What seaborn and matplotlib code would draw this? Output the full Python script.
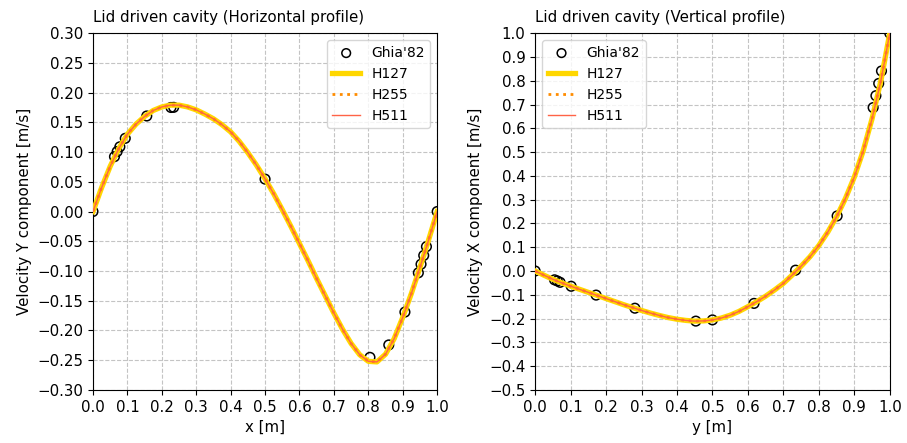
import numpy as np
import pandas as pd
import matplotlib
matplotlib.use("Agg")
import matplotlib.pyplot as plt
import seaborn as sns

plt.rcParams["font.size"] = 10.8

# Ghia et al. (1982), Re=100
ghia_x = [1.0000, 0.9688, 0.9609, 0.9531, 0.9453, 0.9063, 0.8594, 0.8047, 0.5000,
          0.2344, 0.2266, 0.1563, 0.0938, 0.0781, 0.0703, 0.0625, 0.0000]
ghia_v = [0.0, -0.05906, -0.07391, -0.08864, -0.10313, -0.16914, -0.22445, -0.24533,
          0.05454, 0.17527, 0.17507, 0.16077, 0.12317, 0.10890, 0.10091, 0.09233, 0.0]
ghia_y = [1.0000, 0.9766, 0.9688, 0.9609, 0.9531, 0.8516, 0.7344, 0.6172, 0.5000,
          0.4531, 0.2813, 0.1719, 0.1016, 0.0703, 0.0625, 0.0547, 0.0000]
ghia_u = [1.0, 0.84123, 0.78871, 0.73722, 0.68717, 0.23151, 0.00332, -0.13641, -0.20581,
          -0.21090, -0.15662, -0.10150, -0.06434, -0.04775, -0.04192, -0.03717, 0.0]

# simulation profiles
sim_x = [0.000, 0.025, 0.050, 0.075, 0.100, 0.125, 0.150, 0.175, 0.200, 0.225,
         0.250, 0.275, 0.300, 0.325, 0.350, 0.375, 0.400, 0.425, 0.450, 0.475,
         0.500, 0.525, 0.550, 0.575, 0.600, 0.625, 0.650, 0.675, 0.700, 0.725,
         0.750, 0.775, 0.800, 0.825, 0.850, 0.875, 0.900, 0.925, 0.950, 0.975, 1.000]
sim_v = [0.000, 0.040, 0.076, 0.106, 0.130, 0.147, 0.160, 0.170, 0.176, 0.179,
         0.179, 0.176, 0.171, 0.164, 0.156, 0.146, 0.134, 0.118, 0.099, 0.078,
         0.055, 0.030, 0.003, -0.025, -0.054, -0.083, -0.113, -0.142, -0.171, -0.198,
         -0.222, -0.241, -0.252, -0.253, -0.240, -0.214, -0.178, -0.138, -0.094, -0.048, 0.000]
sim_y = [0.000, 0.025, 0.050, 0.075, 0.100, 0.125, 0.150, 0.175, 0.200, 0.225,
         0.250, 0.275, 0.300, 0.325, 0.350, 0.375, 0.400, 0.425, 0.450, 0.475,
         0.500, 0.525, 0.550, 0.575, 0.600, 0.625, 0.650, 0.675, 0.700, 0.725,
         0.750, 0.775, 0.800, 0.825, 0.850, 0.875, 0.900, 0.925, 0.950, 0.975, 1.000]
sim_u = [0.000, -0.018, -0.035, -0.050, -0.064, -0.077, -0.090, -0.103, -0.116, -0.129,
         -0.142, -0.154, -0.166, -0.177, -0.187, -0.196, -0.203, -0.208, -0.211, -0.210,
         -0.206, -0.198, -0.186, -0.170, -0.150, -0.129, -0.106, -0.080, -0.052, -0.017,
         0.020, 0.060, 0.107, 0.163, 0.228, 0.305, 0.395, 0.505, 0.640, 0.800, 1.000]

curves = [("H127", dict(color="gold", lw=3.8, ls="-")),
          ("H255", dict(color="darkorange", lw=2.0, ls=":")),
          ("H511", dict(color="tomato", lw=1.0, ls="-"))]

fig = plt.figure(figsize=(9.07, 4.43), dpi=100)
ax1 = fig.add_axes([0.1025, 0.12, 0.3795, 0.805])
ax2 = fig.add_axes([0.590, 0.12, 0.391, 0.805])


def fmt(t, nd):
    s = "%.*f" % (nd, round(t, nd) + 0.0)
    return s.replace("-", "\u2212")


def panel(ax, gx, gy, sx, sy):
    sns.scatterplot(x=gx, y=gy, ax=ax, s=48, facecolor="none", edgecolor="black",
                    linewidth=1.1, label="Ghia'82", zorder=2)
    for name, st in curves:
        sns.lineplot(x=sx, y=sy, ax=ax, color=st["color"], linewidth=st["lw"],
                     linestyle=st["ls"], label=name, sort=False, zorder=3)
    ax.grid(True, linestyle="--", color="#c4c4c4", linewidth=0.8)
    ax.set_axisbelow(True)
    ax.set_xlim(0, 1)
    ax.set_xticks(np.arange(0, 1.01, 0.1))
    ax.set_xticklabels([fmt(t, 1) for t in np.arange(0, 1.01, 0.1)])


panel(ax1, ghia_x, ghia_v, sim_x, sim_v)
ax1.set_ylim(-0.3, 0.3)
yt = np.arange(-0.30, 0.301, 0.05)
ax1.set_yticks(yt)
ax1.set_yticklabels([fmt(t, 2) for t in yt])
ax1.set_xlabel("x [m]")
ax1.set_ylabel("Velocity Y component [m/s]")
ax1.set_title("Lid driven cavity (Horizontal profile)", loc="left", fontsize=10.8, pad=8)
ax1.legend(loc="upper right", fontsize=10, markerscale=0.9)

panel(ax2, ghia_y, ghia_u, sim_y, sim_u)
ax2.set_ylim(-0.5, 1.0)
yt = np.arange(-0.5, 1.001, 0.1)
ax2.set_yticks(yt)
ax2.set_yticklabels([fmt(t, 1) for t in yt])
ax2.set_xlabel("y [m]")
ax2.set_ylabel("Velocity X component [m/s]")
ax2.set_title("Lid driven cavity (Vertical profile)", loc="left", fontsize=10.8, pad=8)
ax2.legend(loc="upper left", fontsize=10, markerscale=0.9)

fig.savefig("out.png", dpi=100)
